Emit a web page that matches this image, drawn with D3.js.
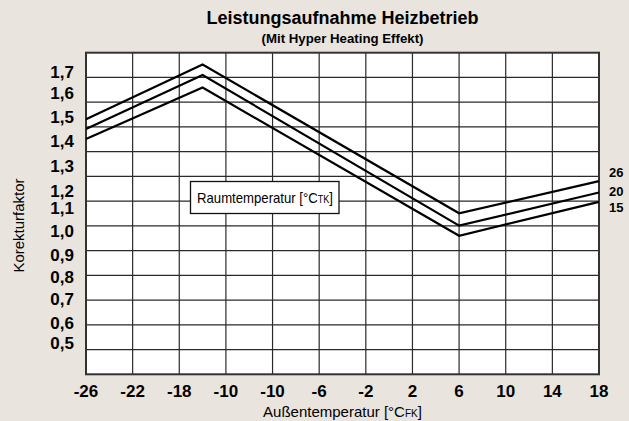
<!DOCTYPE html>
<html>
<head>
<meta charset="utf-8">
<script src="https://cdn.jsdelivr.net/npm/d3@7"></script>
<style>
  body { margin: 0; background: #e9e4de; }
  svg { display: block; font-family: "Liberation Sans", Arial, sans-serif; }
</style>
</head>
<body>
<script>
//------------------------1. PREPARATION------------------------//
const width = 629;
const height = 421;
const margin = {top: 52.7, right: 30, bottom: 46.7, left: 86};

// x positions of the data points (outside temperature)
const temps = [-26, -16, 6, 18];
// series (room temperature) and their correction factors
const rooms = ['26', '20', '15'];
const factor26 = [1.481, 1.702, 1.101, 1.231];
const factor20 = [1.442, 1.660, 1.051, 1.185];
const factor15 = [1.401, 1.609, 1.010, 1.147];
// where the series labels sit on the right
const roomLabelAt = [1.268, 1.191, 1.126];

// axis ticks as printed on the chart
const xTickValues = [-26, -22, -18, -14, -10, -6, -2, 2, 6, 10, 14, 18];
const xTickLabels = ['-26', '-22', '-18', '-10', '-10', '-6', '-2', '2', '6', '10', '14', '18'];
const yGridValues = [1.65, 1.55, 1.45, 1.35, 1.25, 1.15, 1.05, 0.95, 0.85, 0.75, 0.65, 0.55];
const yTickLabels = ['1,7', '1,6', '1,5', '1,4', '1,3', '1,2', '1,1', '1,0', '0,9', '0,8', '0,7', '0,6', '0,5'];
const yTickAt = [1.673, 1.588, 1.489, 1.394, 1.293, 1.192, 1.121, 1.029, 0.932, 0.842, 0.753, 0.656, 0.578];

//-----------------------------SVG------------------------------//
var svg = d3.select('body')
  .append('svg')
  .attr('width', width)
  .attr('height', height);

svg.append('rect')
  .attr('width', width)
  .attr('height', height)
  .attr('fill', '#e9e4de');

//-----------------------------SCALES-----------------------------//
let xScale = d3.scaleLinear()
  .domain([-26, 18])
  .range([margin.left, width - margin.right]);
let yScale = d3.scaleLinear()
  .domain([0.45, 1.75])
  .range([height - margin.bottom, margin.top]);

//-------------------------2. DRAWING---------------------------//
// plot area
svg.append('rect')
  .attr('x', xScale(-26))
  .attr('y', yScale(1.75))
  .attr('width', xScale(18) - xScale(-26))
  .attr('height', yScale(0.45) - yScale(1.75))
  .attr('fill', '#fff');

// grid
svg.append('g')
  .attr('id', 'grid-x')
  .selectAll('line')
  .data(xTickValues.slice(1, -1))
  .join('line')
  .attr('x1', d => xScale(d))
  .attr('x2', d => xScale(d))
  .attr('y1', yScale(1.75))
  .attr('y2', yScale(0.45))
  .attr('stroke', '#2a2a2a')
  .attr('stroke-width', 1.2);

svg.append('g')
  .attr('id', 'grid-y')
  .selectAll('line')
  .data(yGridValues)
  .join('line')
  .attr('x1', xScale(-26))
  .attr('x2', xScale(18))
  .attr('y1', d => yScale(d))
  .attr('y2', d => yScale(d))
  .attr('stroke', '#2a2a2a')
  .attr('stroke-width', 1.2);

// frame
svg.append('rect')
  .attr('x', xScale(-26))
  .attr('y', yScale(1.75))
  .attr('width', xScale(18) - xScale(-26))
  .attr('height', yScale(0.45) - yScale(1.75))
  .attr('fill', 'none')
  .attr('stroke', '#333')
  .attr('stroke-width', 2);

//-----------------------------AXES-----------------------------//
svg.append('g')
  .attr('id', 'x-labels')
  .selectAll('text')
  .data(xTickValues)
  .join('text')
  .attr('x', d => xScale(d))
  .attr('y', yScale(0.45) + 22.5)
  .attr('text-anchor', 'middle')
  .style('font-size', '17px')
  .style('font-weight', 'bold')
  .text((d, i) => xTickLabels[i]);

svg.append('g')
  .attr('id', 'y-labels')
  .selectAll('text')
  .data(yTickAt)
  .join('text')
  .attr('x', 74)
  .attr('y', d => yScale(d))
  .attr('dy', '0.36em')
  .attr('text-anchor', 'end')
  .style('font-size', '17px')
  .style('font-weight', 'bold')
  .text((d, i) => yTickLabels[i]);

// axis titles
var xTitle = svg.append('text')
  .attr('x', (xScale(-26) + xScale(18)) / 2)
  .attr('y', 416.5)
  .attr('text-anchor', 'middle')
  .style('font-size', '15px');
xTitle.append('tspan').text('Außentemperatur [°C');
xTitle.append('tspan').style('font-size', '10px').text('FK');
xTitle.append('tspan').text(']');

svg.append('text')
  .attr('transform', 'translate(24,' + (yScale(1.1) + 12) + ') rotate(-90)')
  .attr('text-anchor', 'middle')
  .style('font-size', '15px')
  .text('Korekturfaktor');

// titles
svg.append('text')
  .attr('x', (xScale(-26) + xScale(18)) / 2)
  .attr('y', 24)
  .attr('text-anchor', 'middle')
  .style('font-size', '18px')
  .style('font-weight', 'bold')
  .text('Leistungsaufnahme Heizbetrieb');

svg.append('text')
  .attr('x', (xScale(-26) + xScale(18)) / 2)
  .attr('y', 43)
  .attr('text-anchor', 'middle')
  .attr('textLength', 162)
  .attr('lengthAdjust', 'spacingAndGlyphs')
  .style('font-size', '13px')
  .style('font-weight', 'bold')
  .text('(Mit Hyper Heating Effekt)');

//----------------------------LINES-----------------------------//
const line = d3.line()
  .x((d, i) => xScale(temps[i]))
  .y(d => yScale(d));

const series = [factor26, factor20, factor15];
for (let i = 0; i < series.length; i++) {
  svg.append('path')
    .datum(series[i])
    .attr('fill', 'none')
    .attr('stroke', '#000')
    .attr('stroke-width', 2.2)
    .attr('d', line);

  svg.append('text')
    .attr('x', xScale(18) + 10)
    .attr('y', yScale(roomLabelAt[i]))
    .attr('dy', '0.36em')
    .style('font-size', '13px')
    .style('font-weight', 'bold')
    .text(rooms[i]);
}

// legend box
var legend = svg.append('g').attr('id', 'legend');
legend.append('rect')
  .attr('x', 190.5)
  .attr('y', 181.5)
  .attr('width', 148.5)
  .attr('height', 32)
  .attr('fill', '#fff')
  .attr('stroke', '#111')
  .attr('stroke-width', 1.3);
var legendText = legend.append('text')
  .attr('x', 197)
  .attr('y', 202.5)
  .attr('textLength', 136)
  .attr('lengthAdjust', 'spacingAndGlyphs')
  .style('font-size', '14.5px');
legendText.append('tspan').text('Raumtemperatur [°C');
legendText.append('tspan').style('font-size', '10px').text('TK');
legendText.append('tspan').text(']');
</script>
</body>
</html>
